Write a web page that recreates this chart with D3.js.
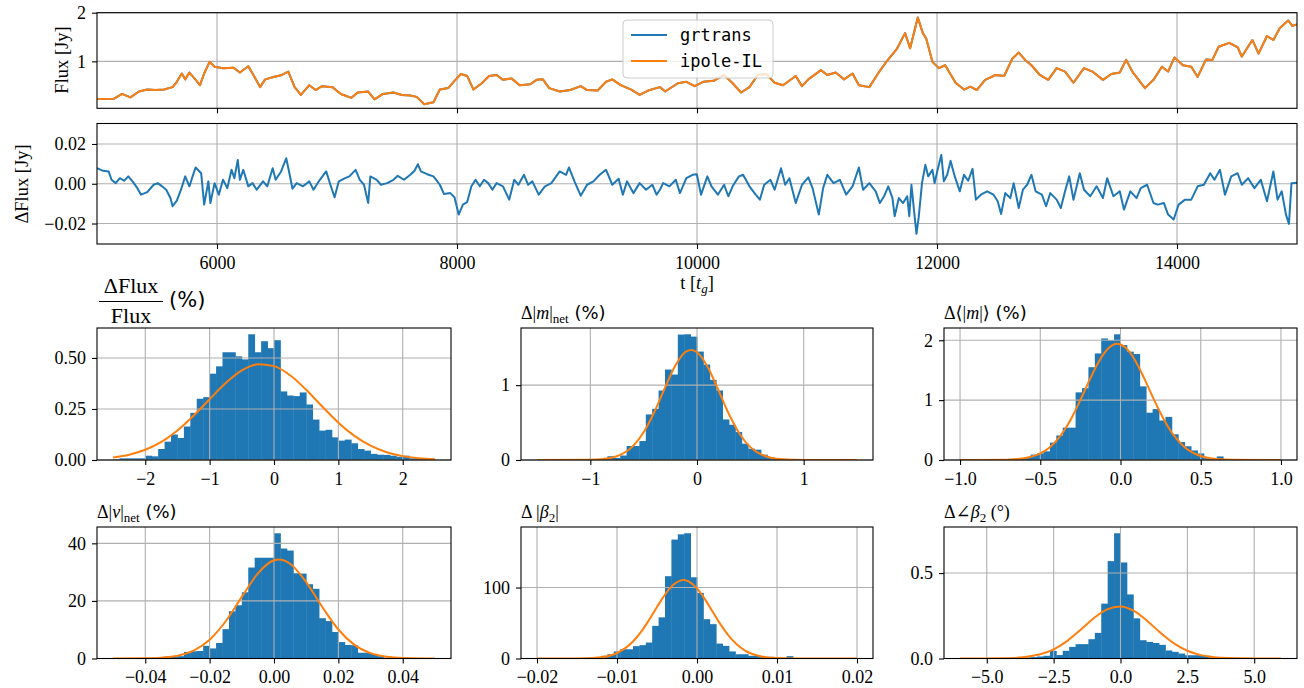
<!DOCTYPE html>
<html>
<head>
<meta charset="utf-8">
<script src="https://cdn.jsdelivr.net/npm/d3@7"></script>
<style>
  body { margin: 0; background: #fff; }
  svg { display: block; }
</style>
</head>
<body>
<div id="chart"></div>
<script>
// ---- time series ----
const timeTicks = [6000, 8000, 10000, 12000, 14000];

// [t, flux] for ipole-IL
const fluxIpole = [
  [5000,0.226],[5139,0.23],[5209,0.33],[5279,0.26],[5349,0.38],[5419,0.42],[5489,0.41],[5559,0.42],
  [5630,0.47],[5665,0.58],[5707,0.75],[5735,0.63],[5770,0.77],[5812,0.65],[5858,0.51],[5893,0.75],
  [5938,0.99],[5980,0.89],[6050,0.86],[6138,0.87],[6191,0.77],[6261,0.90],[6313,0.68],[6359,0.47],
  [6401,0.63],[6471,0.68],[6541,0.72],[6594,0.79],[6647,0.47],[6699,0.31],[6769,0.51],[6822,0.41],
  [6875,0.49],[6962,0.47],[7032,0.33],[7120,0.25],[7173,0.36],[7260,0.38],[7313,0.22],[7383,0.33],
  [7471,0.36],[7541,0.31],[7611,0.30],[7664,0.27],[7727,0.12],[7804,0.16],[7857,0.42],[7927,0.45],
  [7979,0.60],[8032,0.74],[8085,0.70],[8137,0.42],[8207,0.55],[8267,0.70],[8330,0.72],[8383,0.62],
  [8453,0.65],[8523,0.51],[8611,0.53],[8663,0.62],[8716,0.63],[8768,0.45],[8856,0.38],[8944,0.41],
  [9031,0.49],[9084,0.41],[9172,0.40],[9242,0.58],[9294,0.63],[9364,0.51],[9452,0.42],[9522,0.31],
  [9592,0.40],[9691,0.47],[9735,0.38],[9841,0.55],[9911,0.58],[9981,0.49],[10051,0.58],[10139,0.60],
  [10226,0.72],[10297,0.55],[10367,0.36],[10437,0.47],[10507,0.72],[10577,0.74],[10647,0.56],[10717,0.51],
  [10823,0.70],[10875,0.49],[10928,0.63],[11033,0.82],[11086,0.72],[11156,0.77],[11226,0.63],[11296,0.75],
  [11349,0.51],[11436,0.47],[11506,0.74],[11577,0.99],[11664,1.25],[11734,1.58],[11776,1.27],[11840,1.90],
  [11882,1.58],[11910,1.47],[11962,0.99],[12015,0.86],[12068,0.92],[12155,0.56],[12225,0.42],[12278,0.48],
  [12331,0.41],[12401,0.62],[12488,0.72],[12559,0.70],[12629,1.06],[12681,1.18],[12734,1.03],[12787,0.92],
  [12857,0.72],[12927,0.62],[12997,0.86],[13067,0.79],[13137,0.56],[13225,0.86],[13295,0.79],[13383,0.62],
  [13453,0.74],[13523,0.77],[13576,1.03],[13628,0.79],[13733,0.45],[13804,0.62],[13874,0.89],[13926,0.79],
  [13979,1.08],[14049,0.92],[14119,0.89],[14172,0.68],[14242,1.04],[14295,1.03],[14347,1.30],[14435,1.38],
  [14505,1.29],[14540,1.10],[14628,1.44],[14680,1.16],[14750,1.52],[14803,1.44],[14856,1.68],[14926,1.84],
  [14961,1.73],[15000,1.76]
];
// grtrans sits under ipole-IL: the two differ by < 0.03 Jy, well under a pixel here
const fluxGrtrans = fluxIpole;

// [t, grtrans - ipole] in Jy
const deltaFlux = [
  [5000,0.0078],[5051,0.0065],[5097,0.0062],[5121,0.002],[5156,0.0003],[5191,0.0028],[5226,0.0015],[5261,0.0037],
  [5296,0.0012],[5332,-0.0018],[5367,-0.0055],[5419,-0.0042],[5472,-0.0005],[5507,0.0003],[5542,-0.0013],[5577,-0.003],
  [5612,-0.0072],[5630,-0.0113],[5665,-0.0085],[5700,-0.003],[5735,0.0037],[5770,-0.0013],[5805,0.0053],[5822,0.0082],
  [5868,0.0053],[5893,-0.0105],[5928,0.0012],[5945,-0.0097],[5980,0.0003],[6015,-0.0055],[6050,0.002],[6086,-0.0022],
  [6121,0.007],[6145,0.0028],[6173,0.012],[6191,0.002],[6219,0.007],[6261,-0.0013],[6296,0.0003],[6331,-0.003],
  [6384,0.0012],[6419,-0.0013],[6464,0.0078],[6489,0.002],[6534,0.0062],[6577,0.0128],[6605,0.0048],[6629,-0.0025],
  [6664,0.0003],[6717,-0.0013],[6769,0.0012],[6804,-0.003],[6857,0.002],[6910,0.0062],[6945,-0.0005],[6980,-0.0068],
  [7015,0.0012],[7068,0.0028],[7103,0.0037],[7155,0.007],[7190,0.002],[7225,-0.0005],[7260,-0.0097],[7278,0.0037],
  [7331,0.002],[7366,-0.0005],[7418,0.0003],[7471,0.002],[7506,0.004],[7558,0.002],[7611,0.0045],[7646,0.0065],
  [7674,0.0098],[7699,0.0062],[7751,0.0048],[7804,0.0037],[7857,-0.0005],[7892,-0.0052],[7944,-0.0047],[7979,-0.0068],
  [8014,-0.0155],[8049,-0.0105],[8085,-0.0092],[8120,-0.0013],[8155,0.002],[8190,-0.0013],[8225,0.002],[8260,0.0003],
  [8295,-0.003],[8330,0.0003],[8383,-0.0013],[8435,-0.008],[8477,0.002],[8512,-0.0005],[8558,0.0045],[8593,-0.0005],
  [8628,0.0012],[8681,-0.0055],[8733,-0.0013],[8786,0.0003],[8856,0.0062],[8909,0.0045],[8933,0.0082],[8979,0.0012],
  [9031,-0.006],[9084,-0.0005],[9137,0.0012],[9189,0.0045],[9242,0.007],[9294,-0.0005],[9347,0.0025],[9382,-0.0055],
  [9417,0.0012],[9470,-0.0047],[9522,0.0003],[9575,-0.003],[9628,-0.0005],[9663,-0.0055],[9691,-0.003],
  [9718,0.0003],[9770,-0.0013],[9823,0.002],[9858,-0.0047],[9911,0.0028],[9963,0.0045],[9998,0.0048],[10034,-0.0055],
  [10086,0.0037],[10121,-0.0013],[10174,-0.0055],[10226,-0.0005],[10261,-0.0063],[10297,-0.0013],[10349,0.0037],[10384,0.0045],
  [10437,-0.0013],[10489,-0.0055],[10524,-0.008],[10560,-0.0005],[10612,0.002],[10647,-0.003],[10700,0.0078],[10735,-0.0005],
  [10770,0.0028],[10823,-0.0097],[10875,-0.0005],[10928,0.0032],[10963,-0.0022],[11015,-0.0155],[11051,-0.0022],[11086,0.0045],
  [11138,0.0003],[11191,0.002],[11243,-0.0055],[11296,-0.0013],[11349,0.0082],[11384,-0.003],[11436,0.0003],[11489,-0.0038],
  [11524,-0.0097],[11559,-0.0063],[11594,-0.0013],[11629,-0.0072],[11647,-0.0163],[11682,-0.0072],[11717,-0.0097],[11752,-0.0063],
  [11769,-0.0163],[11787,-0.0005],[11812,-0.0155],[11829,-0.0252],[11847,-0.0172],[11875,0.0003],[11903,0.0095],[11927,0.0037],
  [11962,0.007],[11980,0.0003],[12008,0.0078],[12036,0.0145],[12057,0.0012],[12085,0.0045],[12113,0.0115],[12148,0.0037],
  [12190,-0.0038],[12225,0.0045],[12260,0.0015],[12296,0.0075],[12324,-0.008],[12366,-0.0055],[12418,-0.0038],[12471,-0.0055],
  [12506,-0.0088],[12534,-0.0152],[12569,-0.0047],[12611,-0.0072],[12639,0.0003],[12681,-0.0122],[12716,-0.003],[12751,-0.0005],
  [12787,0.0045],[12822,-0.0038],[12874,-0.0055],[12909,-0.0113],[12944,-0.0047],[12997,-0.008],[13032,-0.0122],[13067,-0.0038],
  [13102,0.0037],[13137,-0.008],[13190,0.0053],[13225,-0.003],[13277,-0.0063],[13330,-0.0013],[13383,-0.0072],[13418,0.0028],
  [13470,-0.0063],[13523,-0.0038],[13558,-0.013],[13611,-0.0038],[13663,-0.0072],[13698,-0.0022],[13751,-0.0005],[13804,-0.0097],
  [13839,-0.0105],[13891,-0.0097],[13926,-0.0155],[13972,-0.018],[14014,-0.0105],[14067,-0.008],[14119,-0.008],[14172,-0.0013],
  [14224,-0.0005],[14277,0.0053],[14312,0.002],[14358,0.007],[14400,-0.0055],[14452,0.0037],[14505,0.0053],[14540,-0.0005],
  [14593,0.0028],[14645,-0.0022],[14698,0.002],[14750,-0.0088],[14803,0.0062],[14838,-0.008],[14873,-0.0038],[14908,-0.0155],
  [14933,-0.0202],[14954,0.0003],[15000,0.0005]
];

// ---- histograms: density per bin (50 equal bins over each range) ----
const rangeA = [-2.5, 2.5];
const densA = [0.003,0.008,0.008,0.008,0.008,0.021,0.018,0.054,0.09,0.125,
  0.108,0.164,0.231,0.30,0.308,0.423,0.459,0.528,0.528,0.508,
  0.493,0.616,0.528,0.582,0.548,0.587,0.336,0.316,0.313,0.331,
  0.272,0.198,0.144,0.148,0.111,0.095,0.10,0.082,0.054,0.046,
  0.03,0.026,0.025,0.021,0.016,0.021,0.008,0.01,0.008,0.002];
const fitAx = [-2.5,-2.25,-2,-1.75,-1.5,-1.25,-1,-0.75,-0.5,-0.25,0,0.25,0.5,0.75,1,1.25,1.5,1.75,2,2.25,2.5];
const fitAy = [0.012,0.026,0.050,0.089,0.145,0.217,0.298,0.377,0.439,0.469,0.460,0.415,0.344,0.262,0.183,0.118,0.070,0.038,0.019,0.009,0.004];

const rangeB = [-1.5, 1.5];
const densB = [0,0,0,0,0.003,0.01,0.01,0.008,0.005,0.005,
  0.005,0.05,0.027,0.06,0.187,0.187,0.253,0.609,0.684,0.929,
  1.209,1.142,1.676,1.68,1.649,1.449,1.276,1.071,0.929,0.542,
  0.471,0.373,0.218,0.151,0.138,0.071,0.04,0.018,0.009,0.005,
  0.003,0,0,0,0,0,0,0,0,0];
const fitBx = [-1.5,-1.0,-0.8,-0.7,-0.6,-0.5,-0.4,-0.3,-0.2,-0.1,-0.05,0,0.1,0.2,0.3,0.4,0.5,0.6,0.7,0.8,1.0,1.5];
const fitBy = [0,0.003,0.031,0.081,0.186,0.370,0.642,0.968,1.270,1.450,1.470,1.439,1.244,0.935,0.611,0.348,0.172,0.074,0.028,0.009,0,0];

const rangeC = [-1, 1];
const densC = [0,0,0,0,0,0,0,0.003,0.01,0.02,
  0.05,0.09,0.11,0.145,0.29,0.41,0.54,0.54,1.13,1.20,
  1.55,1.78,2.03,2.00,2.10,1.92,1.81,1.77,1.23,0.79,
  0.85,0.66,0.72,0.43,0.30,0.23,0.16,0.11,0.03,0.03,
  0.06,0.01,0.005,0,0,0,0,0,0,0];
const fitCx = [-1,-0.7,-0.6,-0.5,-0.45,-0.4,-0.35,-0.3,-0.25,-0.2,-0.15,-0.1,-0.05,-0.02,0,0.05,0.1,0.15,0.2,0.25,0.3,0.35,0.4,0.45,0.5,0.6,0.7,1];
const fitCy = [0,0.006,0.029,0.109,0.192,0.319,0.497,0.728,1.002,1.294,1.571,1.791,1.918,1.94,1.930,1.826,1.621,1.350,1.059,0.780,0.539,0.351,0.214,0.122,0.066,0.016,0.003,0];

const rangeD = [-0.05, 0.05];
const densD = [0,0,0,0,0,0.1,0.3,0.5,0.7,0.7,
  0.8,2.3,2.5,2.6,4.4,3.5,5.4,10.2,16.4,18.5,
  23.0,31.6,35.0,35.0,35.0,43.5,38.2,37.5,29.6,29.5,
  25.8,24.2,14.0,13.0,9.2,5.7,4.7,4.6,2.0,2.0,
  1.6,0.8,0.3,0.2,0.1,0.3,0,0,0,0];
const fitDx = [-0.05,-0.04,-0.035,-0.03,-0.025,-0.02,-0.015,-0.01,-0.005,0,0.0015,0.005,0.01,0.015,0.02,0.025,0.03,0.035,0.04,0.05];
const fitDy = [0,0.07,0.29,0.98,2.76,6.54,12.94,21.4,29.55,34.13,34.4,32.92,26.55,17.89,10.07,4.73,1.86,0.61,0.17,0];

const rangeE = [-0.02, 0.02];
const densE = [0,0,0,0,0.3,0.3,0.5,1.0,1.0,1.0,
  3.8,6.0,10.0,13.0,13.0,17.4,18.8,22.5,46,58,
  116,167.6,175,176.5,114.5,92.5,55.4,48.4,21,17.8,
  10,6,6,3.8,3.8,2.3,2.3,0.5,0,3.3,
  0,0,0,0,0,0,0,0,0,0];
const fitEx = [-0.02,-0.015,-0.012,-0.01,-0.008,-0.007,-0.006,-0.005,-0.004,-0.003,-0.002,-0.0017,-0.001,0,0.001,0.002,0.003,0.004,0.005,0.006,0.007,0.008,0.01,0.012,0.015,0.02];
const fitEy = [0,0.12,1.85,7.75,23.9,37.4,54.2,72.6,90.1,103.5,110.1,110.5,108.4,98.9,83.4,65.2,47.1,31.6,19.6,11.2,5.97,2.93,0.56,0.08,0,0];

const rangeF = [-6, 6];
const densF = [0,0.002,0.002,0.002,0.003,0.003,0.003,0.004,0.004,0.005,
  0.006,0.008,0.012,0.016,0.045,0.02,0.045,0.068,0.084,0.084,
  0.113,0.15,0.321,0.57,0.733,0.562,0.375,0.235,0.107,0.097,
  0.091,0.08,0.047,0.039,0.029,0.019,0.019,0.019,0.016,0.006,
  0.004,0.003,0.002,0.002,0.002,0.001,0.001,0.003,0.001,0];
const fitFx = [-6,-5,-4.5,-4,-3.5,-3,-2.5,-2,-1.5,-1,-0.5,0,0.5,1,1.5,2,2.5,3,3.5,4,5,6];
const fitFy = [0,0.0003,0.001,0.0033,0.0097,0.0246,0.0538,0.102,0.167,0.236,0.288,0.305,0.279,0.220,0.150,0.0886,0.0452,0.0199,0.0076,0.0025,0.0002,0];

// ---- drawing ----
const W = 1304, H = 688;
const BLUE = '#1f77b4', ORANGE = '#ff7f0e', GRID = '#b0b0b0';
const SERIF = '"Liberation Serif", "DejaVu Serif", serif';
const SANS = '"DejaVu Sans", sans-serif';
const MONO = '"DejaVu Sans Mono", monospace';

const svg = d3.select('#chart').append('svg')
  .attr('width', W).attr('height', H)
  .attr('viewBox', `0 0 ${W} ${H}`);

let clipId = 0;

function styleAxis(g) {
  g.select('.domain').remove();
  g.selectAll('.tick line').attr('stroke', '#000').attr('stroke-width', 1.1);
  g.selectAll('.tick text')
    .attr('fill', '#000')
    .attr('font-family', SERIF)
    .attr('font-size', 18);
}

// frame + grid + axes around a box; returns a group clipped to the box
function axesBox(box, x, y, xTicks, xFmt, yTicks, yFmt, showXLabels) {
  const g = svg.append('g');
  const id = 'clip' + (clipId++);
  g.append('clipPath').attr('id', id)
    .append('rect')
    .attr('x', box.x0).attr('y', box.y0)
    .attr('width', box.x1 - box.x0).attr('height', box.y1 - box.y0);

  const grid = g.append('g');
  const above = g.append('g').attr('clip-path', `url(#${id})`);

  grid.selectAll('line.vx').data(xTicks).join('line')
    .attr('x1', d => x(d)).attr('x2', d => x(d))
    .attr('y1', box.y0).attr('y2', box.y1)
    .attr('stroke', GRID).attr('stroke-width', 1.1);
  grid.selectAll('line.hy').data(yTicks).join('line')
    .attr('x1', box.x0).attr('x2', box.x1)
    .attr('y1', d => y(d)).attr('y2', d => y(d))
    .attr('stroke', GRID).attr('stroke-width', 1.1);

  const xa = d3.axisBottom(x).tickValues(xTicks).tickSizeOuter(0)
    .tickSize(5).tickPadding(7)
    .tickFormat(showXLabels ? xFmt : '');
  g.append('g').attr('transform', `translate(0,${box.y1})`).call(xa).call(styleAxis);

  const ya = d3.axisLeft(y).tickValues(yTicks).tickSizeOuter(0)
    .tickSize(5).tickPadding(6).tickFormat(yFmt);
  g.append('g').attr('transform', `translate(${box.x0},0)`).call(ya).call(styleAxis);

  g.append('rect')
    .attr('x', box.x0).attr('y', box.y0)
    .attr('width', box.x1 - box.x0).attr('height', box.y1 - box.y0)
    .attr('fill', 'none').attr('stroke', '#000').attr('stroke-width', 1.1);

  return { above };
}

// ---- top: flux ----
const topBox = { x0: 97, x1: 1297, y0: 12.7, y1: 108.3 };
const xTime = d3.scaleLinear().domain([5000, 15000]).range([topBox.x0, topBox.x1]);
const yFlux = d3.scaleLinear().domain([0.035, 2]).range([topBox.y1, topBox.y0]);
const fluxAx = axesBox(topBox, xTime, yFlux, timeTicks, d3.format('d'), [1, 2], d3.format('d'), false);

const fluxLine = d3.line().x(d => xTime(d[0])).y(d => yFlux(d[1]));
fluxAx.above.append('path').datum(fluxGrtrans).attr('d', fluxLine)
  .attr('fill', 'none').attr('stroke', BLUE).attr('stroke-width', 2).attr('stroke-linejoin', 'round');
fluxAx.above.append('path').datum(fluxIpole).attr('d', fluxLine)
  .attr('fill', 'none').attr('stroke', ORANGE).attr('stroke-width', 2).attr('stroke-linejoin', 'round');

svg.append('text')
  .attr('transform', 'translate(68,60) rotate(-90)')
  .attr('text-anchor', 'middle')
  .attr('font-family', SERIF).attr('font-size', 18.5)
  .text('Flux [Jy]');

// legend
const legend = svg.append('g');
legend.append('rect')
  .attr('x', 623).attr('y', 20).attr('width', 150).attr('height', 58).attr('rx', 4)
  .attr('fill', '#fff').attr('fill-opacity', 0.8)
  .attr('stroke', '#cccccc').attr('stroke-width', 1);
[['grtrans', BLUE, 35], ['ipole-IL', ORANGE, 61]].forEach(([name, color, ly]) => {
  legend.append('line')
    .attr('x1', 631).attr('x2', 667).attr('y1', ly).attr('y2', ly)
    .attr('stroke', color).attr('stroke-width', 2);
  legend.append('text')
    .attr('x', 680).attr('y', ly + 6)
    .attr('font-family', MONO).attr('font-size', 17)
    .text(name);
});

// ---- middle: delta flux ----
const midBox = { x0: 97, x1: 1297, y0: 123.5, y1: 244 };
const yDelta = d3.scaleLinear().domain([-0.0303, 0.0303]).range([midBox.y1, midBox.y0]);
const deltaAx = axesBox(midBox, xTime, yDelta, timeTicks, d3.format('d'), [-0.02, 0, 0.02], d3.format('.2f'), true);
deltaAx.above.append('path').datum(deltaFlux)
  .attr('d', d3.line().x(d => xTime(d[0])).y(d => yDelta(d[1])))
  .attr('fill', 'none').attr('stroke', BLUE).attr('stroke-width', 2).attr('stroke-linejoin', 'round');

svg.append('text')
  .attr('transform', 'translate(28,184) rotate(-90)')
  .attr('text-anchor', 'middle')
  .attr('font-family', SERIF).attr('font-size', 18.5)
  .text('ΔFlux [Jy]');

const tLabel = svg.append('text')
  .attr('x', 697).attr('y', 289).attr('text-anchor', 'middle')
  .attr('font-family', SERIF).attr('font-size', 18.5);
tLabel.append('tspan').text('t [');
tLabel.append('tspan').attr('font-style', 'italic').text('t');
tLabel.append('tspan').attr('font-style', 'italic').attr('font-size', 13).attr('dy', 4).text('g');
tLabel.append('tspan').attr('dy', -4).text(']');

// ---- histogram grid ----
const cols = [[97, 451], [521, 873], [944, 1297]];
const rows = [[328, 460], [527, 658.5]];

const panels = [
  { col: 0, row: 0, range: rangeA, dens: densA, fx: fitAx, fy: fitAy, pad: 0.25,
    xTicks: [-2, -1, 0, 1, 2], xFmt: d3.format('d'), yTicks: [0, 0.25, 0.5], yFmt: d3.format('.2f') },
  { col: 1, row: 0, range: rangeB, dens: densB, fx: fitBx, fy: fitBy, pad: 0.15,
    xTicks: [-1, 0, 1], xFmt: d3.format('d'), yTicks: [0, 1], yFmt: d3.format('d') },
  { col: 2, row: 0, range: rangeC, dens: densC, fx: fitCx, fy: fitCy, pad: 0.1,
    xTicks: [-1, -0.5, 0, 0.5, 1], xFmt: d3.format('.1f'), yTicks: [0, 1, 2], yFmt: d3.format('d') },
  { col: 0, row: 1, range: rangeD, dens: densD, fx: fitDx, fy: fitDy, pad: 0.005,
    xTicks: [-0.04, -0.02, 0, 0.02, 0.04], xFmt: d3.format('.2f'), yTicks: [0, 20, 40], yFmt: d3.format('d') },
  { col: 1, row: 1, range: rangeE, dens: densE, fx: fitEx, fy: fitEy, pad: 0.002,
    xTicks: [-0.02, -0.01, 0, 0.01, 0.02], xFmt: d3.format('.2f'), yTicks: [0, 100], yFmt: d3.format('d') },
  { col: 2, row: 1, range: rangeF, dens: densF, fx: fitFx, fy: fitFy, pad: 0.6,
    xTicks: [-5, -2.5, 0, 2.5, 5], xFmt: d3.format('.1f'), yTicks: [0, 0.5], yFmt: d3.format('.1f') }
];

panels.forEach(p => {
  const box = { x0: cols[p.col][0], x1: cols[p.col][1], y0: rows[p.row][0], y1: rows[p.row][1] };
  const x = d3.scaleLinear().domain([p.range[0] - p.pad, p.range[1] + p.pad]).range([box.x0, box.x1]);
  const yMax = Math.max(d3.max(p.dens), d3.max(p.fy)) * 1.05;
  const y = d3.scaleLinear().domain([0, yMax]).range([box.y1, box.y0]);

  const g = svg.append('g');
  // bars sit under the grid, as in matplotlib
  const n = p.dens.length;
  const w = (p.range[1] - p.range[0]) / n;
  const bins = p.dens.map((d, i) => ({ lo: p.range[0] + i * w, hi: p.range[0] + (i + 1) * w, d }));
  g.selectAll('rect').data(bins.filter(b => b.d > 0)).join('rect')
    .attr('x', b => x(b.lo))
    .attr('width', b => x(b.hi) - x(b.lo) + 0.4)
    .attr('y', b => y(b.d))
    .attr('height', b => y(0) - y(b.d))
    .attr('fill', BLUE);

  const ax = axesBox(box, x, y, p.xTicks, p.xFmt, p.yTicks, p.yFmt, true);
  const pts = p.fx.map((v, i) => [v, p.fy[i]]);
  ax.above.append('path').datum(pts)
    .attr('d', d3.line().x(d => x(d[0])).y(d => y(d[1])).curve(d3.curveMonotoneX))
    .attr('fill', 'none').attr('stroke', ORANGE).attr('stroke-width', 2);
});

// ---- subplot titles ----
function title(xPos, yPos, parts) {
  const t = svg.append('text').attr('x', xPos).attr('y', yPos)
    .attr('font-family', SERIF).attr('font-size', 18).attr('fill', '#000');
  parts.forEach(s => {
    const sp = t.append('tspan').text(s.t);
    if (s.it) sp.attr('font-style', 'italic');
    if (s.sans) sp.attr('font-family', SANS);
    if (s.size) sp.attr('font-size', s.size);
    if (s.dy) sp.attr('dy', s.dy);
  });
  return t;
}

// fraction title: dFlux / Flux (%)
svg.append('text').attr('x', 131).attr('y', 293).attr('text-anchor', 'middle')
  .attr('font-family', SERIF).attr('font-size', 22).text('ΔFlux');
svg.append('line').attr('x1', 99).attr('x2', 163).attr('y1', 301.5).attr('y2', 301.5)
  .attr('stroke', '#000').attr('stroke-width', 1.2);
svg.append('text').attr('x', 131).attr('y', 323).attr('text-anchor', 'middle')
  .attr('font-family', SERIF).attr('font-size', 22).text('Flux');
svg.append('text').attr('x', 169).attr('y', 307)
  .attr('font-family', SANS).attr('font-size', 21).text('(%)');

title(521, 319, [{ t: 'Δ|' }, { t: 'm', it: true }, { t: '|' },
  { t: 'net', size: 13, dy: 4 }, { t: ' (%)', sans: true, dy: -4 }]);
title(944, 319, [{ t: 'Δ⟨|' }, { t: 'm', it: true }, { t: '|⟩' }, { t: ' (%)', sans: true }]);
title(97, 518, [{ t: 'Δ|' }, { t: 'v', it: true }, { t: '|' },
  { t: 'net', size: 13, dy: 4 }, { t: ' (%)', sans: true, dy: -4 }]);
title(521, 518, [{ t: 'Δ |' }, { t: 'β', it: true }, { t: '2', size: 13, dy: 4 }, { t: '|', dy: -4 }]);
title(944, 518, [{ t: 'Δ∠' }, { t: 'β', it: true }, { t: '2', size: 13, dy: 4 }, { t: ' (°)', dy: -4 }]);
</script>
</body>
</html>
